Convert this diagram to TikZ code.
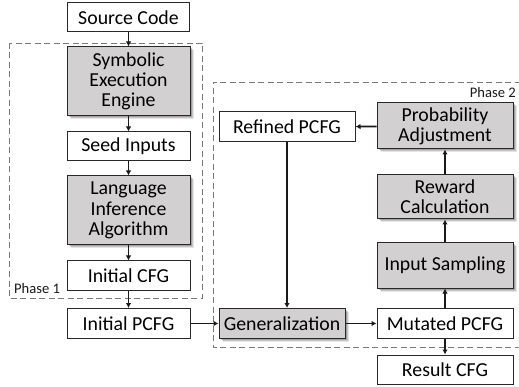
\documentclass[tikz,border=0pt]{standalone}
\usepackage{fontspec}
\setmainfont{Carlito}
\usetikzlibrary{arrows.meta,shadows}
\definecolor{boxgray}{RGB}{210,208,208}
\definecolor{edge}{RGB}{40,40,40}
\definecolor{dashgray}{RGB}{120,120,120}
\begin{document}
\begin{tikzpicture}[x=1pt,y=-1pt,
  base/.style={draw=edge, line width=1pt, align=center, inner sep=0pt, text=black,
    font=\fontsize{19.8}{20.2}\selectfont},
  wbox/.style={base, fill=white},
  gbox/.style={base, fill=boxgray,
    drop shadow={shadow xshift=1.5pt, shadow yshift=-1.5pt, opacity=0.18, fill=black},
    drop shadow={shadow xshift=2.5pt, shadow yshift=-2.5pt, opacity=0.14, fill=black},
    drop shadow={shadow xshift=3.5pt, shadow yshift=-3.5pt, opacity=0.10, fill=black}},
  conn/.style={line width=1.8pt, draw=black!90, -{Latex[length=5pt,width=5.5pt]}},
  phase/.style={draw=dashgray, line width=0.8pt, dash pattern=on 6pt off 3.5pt},
  plabel/.style={font=\fontsize{14.6}{16}\selectfont, text=black!90, inner sep=0pt}]
\useasboundingbox (0,0) rectangle (519,387);
% phase boxes
\draw[phase] (9,43) rectangle (202,298);
\draw[phase] (530,82) -- (213,82) -- (213,347) -- (530,347);
\node[plabel, anchor=west] (p1) at (14,288) {Phase 1};
\node[plabel, anchor=east] (p2) at (516,92) {Phase 2};
% left column
\node[wbox, minimum width=122pt, minimum height=29pt] (src) at (128.5,17.5) {Source Code};
\node[gbox, minimum width=123pt, minimum height=69pt] (sym) at (128.5,81.5) {Symbolic\\Execution\\Engine};
\node[wbox, minimum width=123pt, minimum height=29pt] (seed) at (128.5,146.5) {Seed Inputs};
\node[gbox, minimum width=123pt, minimum height=69pt] (lang) at (128.5,210.5) {Language\\Inference\\Algorithm};
\node[wbox, minimum width=123pt, minimum height=29pt] (icfg) at (128.5,275.5) {Initial CFG};
\node[wbox, minimum width=123pt, minimum height=30pt] (ipcfg) at (128.5,323.5) {Initial PCFG};
% phase 2
\node[wbox, minimum width=136pt, minimum height=30pt] (ref) at (287,127) {Refined PCFG};
\node[gbox, minimum width=136pt, minimum height=46pt] (prob) at (445,126) {Probability\\Adjustment};
\node[gbox, minimum width=136pt, minimum height=44pt] (rew) at (445,197) {Reward\\Calculation};
\node[gbox, minimum width=136pt, minimum height=45pt] (samp) at (445,265.5) {Input Sampling};
\node[gbox, minimum width=126pt, minimum height=30pt] (gen) at (282,323.5) {Generalization};
\node[wbox, minimum width=136pt, minimum height=30pt] (mut) at (445,323.5) {Mutated PCFG};
\node[wbox, minimum width=136pt, minimum height=29pt] (res) at (445,369.5) {Result CFG};
% connectors
\draw[conn] (src) -- (sym);
\draw[conn] (sym) -- (seed);
\draw[conn] (seed) -- (lang);
\draw[conn] (lang) -- (icfg);
\draw[conn] (icfg) -- (ipcfg);
\draw[conn] (ipcfg) -- (gen);
\draw[conn] (gen) -- (mut);
\draw[conn] (mut) -- (samp);
\draw[conn] (samp) -- (rew);
\draw[conn] (rew) -- (prob);
\draw[conn] (prob) -- (ref);
\draw[conn] (ref.south) -- (ref.south |- gen.north);
\draw[conn] (mut) -- (res);
\end{tikzpicture}
\end{document}
